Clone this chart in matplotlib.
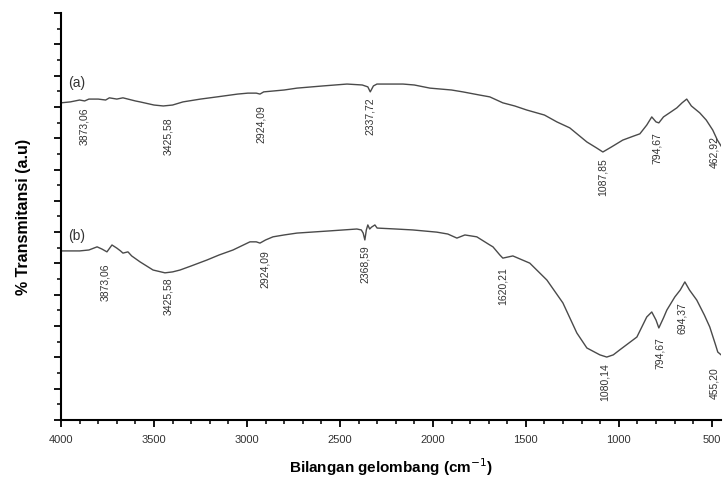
import numpy as np
import matplotlib
matplotlib.use("Agg")
import matplotlib.pyplot as plt
from matplotlib.ticker import MultipleLocator

plt.rcParams['font.family'] = ['Liberation Sans', 'DejaVu Sans']

# spectrum (a)
wn_a = [4000, 3950, 3900, 3873, 3850, 3800, 3760, 3740, 3700, 3667, 3600, 3575, 3500, 3450,
        3400, 3344, 3250, 3161, 3050, 2995, 2950, 2930, 2910, 2800, 2731, 2591, 2462, 2380,
        2350, 2337, 2320, 2301, 2161, 2100, 2016, 1900, 1839, 1750, 1694, 1624, 1560, 1495,
        1400, 1333, 1264, 1172, 1120, 1086, 1040, 979, 920, 887, 850, 823, 800, 785, 760,
        720, 688, 660, 635, 610, 565, 530, 495, 470, 450]
t_a = [10.13, 10.16, 10.22, 10.19, 10.25, 10.25, 10.22, 10.29, 10.25, 10.29, 10.19, 10.16,
       10.06, 10.03, 10.06, 10.16, 10.25, 10.32, 10.41, 10.44, 10.44, 10.41, 10.48, 10.54,
       10.60, 10.67, 10.73, 10.70, 10.64, 10.48, 10.67, 10.73, 10.73, 10.70, 10.60, 10.54,
       10.48, 10.38, 10.32, 10.13, 10.03, 9.90, 9.74, 9.52, 9.33, 8.88, 8.69, 8.56, 8.72,
       8.94, 9.07, 9.14, 9.42, 9.68, 9.52, 9.49, 9.68, 9.84, 9.97, 10.13, 10.25, 10.03,
       9.81, 9.58, 9.26, 8.94, 8.75]

# spectrum (b)
wn_b = [4000, 3900, 3850, 3806, 3780, 3753, 3726, 3700, 3680, 3667, 3640, 3620, 3575, 3505,
        3441, 3400, 3360, 3300, 3215, 3150, 3075, 2984, 2950, 2930, 2900, 2860, 2800, 2731,
        2554, 2409, 2385, 2375, 2366, 2358, 2350, 2340, 2330, 2312, 2300, 2200, 2108, 1979,
        1920, 1871, 1828, 1764, 1694, 1677, 1640, 1624, 1570, 1479, 1387, 1301, 1226, 1172,
        1102, 1065, 1030, 995, 903, 850, 823, 800, 785, 760, 742, 699, 670, 645, 620, 581,
        540, 511, 480, 468, 450]
t_b = [5.40, 5.40, 5.43, 5.53, 5.46, 5.37, 5.59, 5.49, 5.40, 5.33, 5.37, 5.24, 5.05, 4.79,
       4.70, 4.73, 4.79, 4.92, 5.11, 5.27, 5.43, 5.69, 5.69, 5.65, 5.75, 5.85, 5.91, 5.97,
       6.04, 6.10, 6.07, 5.97, 5.75, 6.07, 6.23, 6.10, 6.16, 6.23, 6.13, 6.10, 6.07, 6.00,
       5.94, 5.81, 5.91, 5.85, 5.59, 5.53, 5.27, 5.17, 5.24, 5.01, 4.47, 3.74, 2.78, 2.30,
       2.08, 2.01, 2.08, 2.24, 2.65, 3.29, 3.45, 3.19, 2.94, 3.26, 3.51, 3.93, 4.15, 4.41,
       4.15, 3.83, 3.35, 2.97, 2.40, 2.17, 2.08]

# peak labels: text, x position, top of text
peaks_a = ["3873,06", "3425,58", "2924,09", "2337,72", "1087,85", "794,67", "462,92"]
peaks_a_x = [3873, 3425, 2924, 2337, 1087, 794, 485]
peaks_a_y = [9.97, 9.68, 10.06, 10.32, 8.37, 9.20, 9.07]

peaks_b = ["3873,06", "3425,58", "2924,09", "2368,59", "1620,21", "1080,14", "794,67", "694,37", "455,20"]
peaks_b_x = [3763, 3425, 2903, 2366, 1624, 1075, 780, 662, 485]
peaks_b_y = [5.01, 4.54, 5.43, 5.59, 4.89, 1.82, 2.65, 3.77, 1.69]

fig = plt.figure(figsize=(7.23, 4.79), dpi=100)
ax = fig.add_axes([0.0844, 0.1232, 0.913, 0.8497])

ax.plot(wn_a, t_a, color="#4a4a4a", lw=1.0)
ax.plot(wn_b, t_b, color="#4a4a4a", lw=1.0)

for s, x, y in zip(peaks_a, peaks_a_x, peaks_a_y):
    ax.text(x, y, s, rotation=90, ha="center", va="top", fontsize=7.5, color="#333333")
for s, x, y in zip(peaks_b, peaks_b_x, peaks_b_y):
    ax.text(x, y, s, rotation=90, ha="center", va="top", fontsize=7.5, color="#333333")

ax.text(3960, 10.76, "(a)", fontsize=10, color="#333333", va="center")
ax.text(3960, 5.88, "(b)", fontsize=10, color="#333333", va="center")

ax.set_xlim(4000, 450)
ax.set_ylim(0, 13)
ax.xaxis.set_major_locator(MultipleLocator(500))
ax.xaxis.set_minor_locator(MultipleLocator(100))
ax.yaxis.set_major_locator(MultipleLocator(1))
ax.yaxis.set_minor_locator(MultipleLocator(0.5))
ax.set_yticklabels([])
ax.tick_params(which="major", length=5, width=1.3, direction="out", color="black")
ax.tick_params(which="minor", length=3, width=1.1, direction="out", color="black")
ax.tick_params(axis="x", labelsize=8, labelcolor="#333333", pad=6)

for side in ["top", "right"]:
    ax.spines[side].set_visible(False)
for side in ["left", "bottom"]:
    ax.spines[side].set_linewidth(1.5)

ax.set_xlabel("Bilangan gelombang (cm$^{-1}$)", fontsize=11, fontweight="bold", labelpad=8)
ax.set_ylabel("% Transmitansi (a.u)", fontsize=11.5, fontweight="bold", labelpad=13)

fig.savefig("out.png", dpi=100)
